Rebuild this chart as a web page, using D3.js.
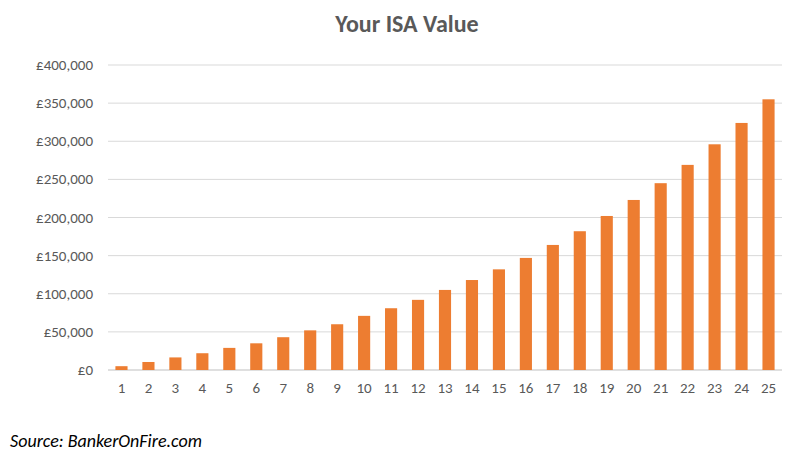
<!DOCTYPE html><html><head><meta charset="utf-8"><script src="https://cdn.jsdelivr.net/npm/d3@7"></script>
<style>body{margin:0;background:#fff}text{font-family:Carlito,Calibri,"Open Sans",sans-serif}</style></head><body>
<svg id="c" width="810" height="456"></svg>
<script>
const years=d3.range(1,26);
const values=[5000,10500,16500,22000,29000,35000,43000,52000,60000,71000,81000,92000,105000,118000,132000,147000,164000,182000,202000,223000,245000,269000,296000,324000,355000];
const ticks=[0,50000,100000,150000,200000,250000,300000,350000,400000];
const svg=d3.select("#c");
const x=d3.scaleBand().domain(years).range([108,782]).paddingInner(0.55).paddingOuter(0.275);
const y=d3.scaleLinear().domain([0,400000]).range([370,65]);
svg.append("g").selectAll("line").data(ticks).join("line")
 .attr("x1",108).attr("x2",782).attr("y1",d=>y(d)).attr("y2",d=>y(d))
 .attr("stroke",d=>d?"#d9d9d9":"#bfbfbf").attr("stroke-width",1);
svg.append("g").selectAll("text").data(ticks).join("text")
 .attr("x",93).attr("y",d=>y(d)+5).attr("text-anchor","end").attr("font-size",15).attr("fill","#595959")
 .text(d=>"£"+d3.format(",")(d));
svg.append("g").selectAll("rect").data(values).join("rect")
 .attr("x",(d,i)=>x(years[i])).attr("width",x.bandwidth()).attr("y",d=>y(d)).attr("height",d=>370-y(d)).attr("fill","#ed7d31");
svg.append("g").selectAll("text").data(years).join("text")
 .attr("x",d=>x(d)+x.bandwidth()/2).attr("y",393).attr("text-anchor","middle").attr("font-size",15).attr("fill","#595959").text(d=>d);
svg.append("text").attr("x",407).attr("y",32).attr("text-anchor","middle").attr("font-size",24).attr("font-weight","bold").attr("fill","#595959").text("Your ISA Value");
svg.append("text").attr("x",10).attr("y",447).attr("font-size",18).attr("font-style","italic").attr("fill","#000").text("Source: BankerOnFire.com");
</script></body></html>
